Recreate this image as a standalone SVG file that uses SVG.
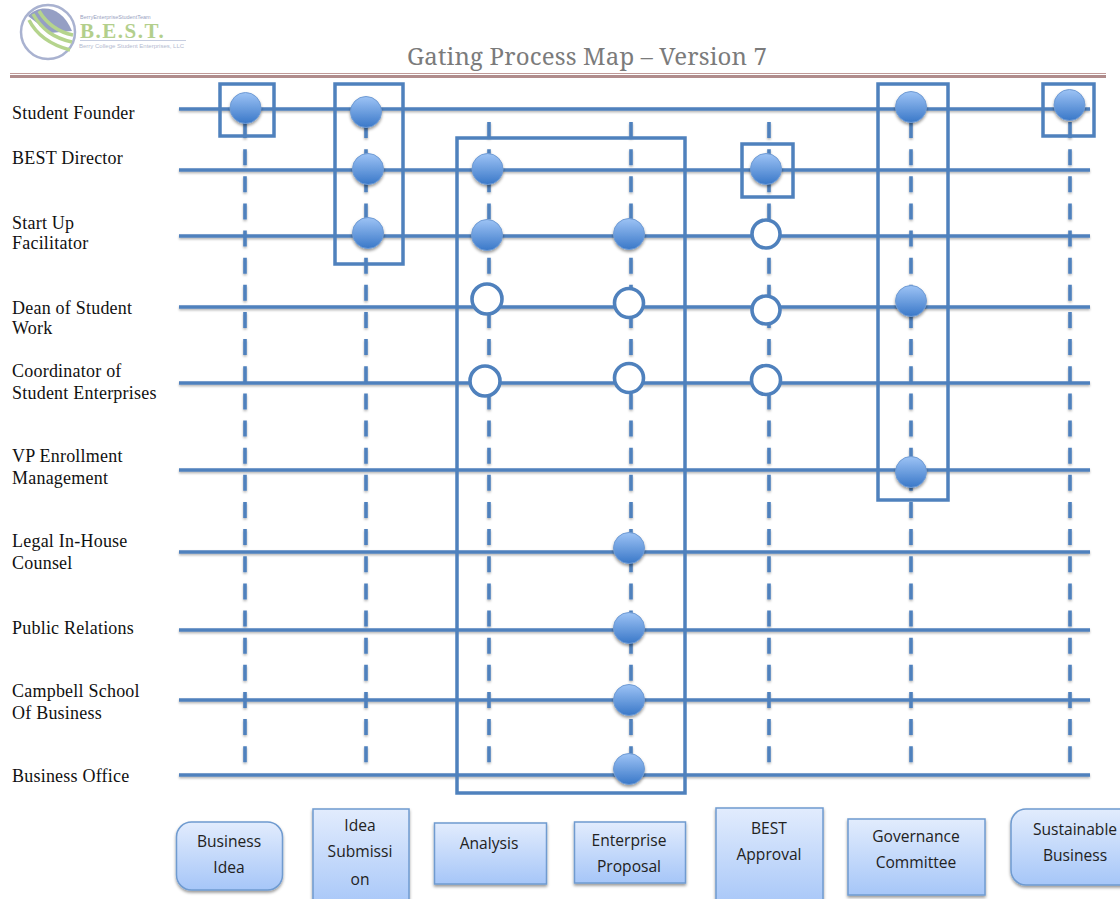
<svg xmlns="http://www.w3.org/2000/svg" width="1120" height="899" viewBox="0 0 1120 899">
<style>
.lb{font-family:"Liberation Serif","Times New Roman",serif;font-size:18px;letter-spacing:.22px;fill:#111}
.bt{font-family:"Open Sans","Noto Sans",sans-serif;font-size:15.6px;fill:#222;text-anchor:middle}
.h{stroke:#4f81bd;stroke-width:3.6;fill:none}
.v{stroke:#4f81bd;stroke-width:3.6;fill:none;stroke-dasharray:16 11.140}
.sd{filter:url(#ls)}
.f{fill:none;stroke:#4f81bd;stroke-width:3.5}
.on{fill:url(#dot);stroke:#6f9bd4;stroke-width:1;filter:url(#sh)}
.off{fill:#fff;stroke:#4f81bd;stroke-width:3.6}
.box{fill:url(#bx);stroke:#6f9bd0;stroke-width:1.500;filter:url(#sh)}
</style>
<defs>
<linearGradient id="dot" x1="0" y1="0" x2="0" y2="1"><stop offset="0" stop-color="#9dc3f5"/><stop offset="1" stop-color="#3a78c8"/></linearGradient>
<linearGradient id="bx" x1="0" y1="0" x2="0" y2="1"><stop offset="0" stop-color="#e2ecfd"/><stop offset="1" stop-color="#a6c6f8"/></linearGradient>
<filter id="sh" x="-20%" y="-20%" width="140%" height="140%"><feDropShadow dx="0" dy="2" stdDeviation="1.500" flood-color="#000" flood-opacity=".4"/></filter>
<filter id="ls" filterUnits="userSpaceOnUse" x="0" y="0" width="1120" height="899"><feDropShadow dx="0" dy="1.500" stdDeviation="1" flood-color="#000" flood-opacity=".3"/></filter>
</defs>
<rect width="1120" height="899" fill="#fff"/>
<g id="logo">
<circle cx="48" cy="32" r="27" fill="none" stroke="#a9b2d0" stroke-width="2.500"/>
<path d="M28 16C40 3 62 6 72 31L50 33Z" fill="#959fc4"/>
<path d="M29 20C36 34 48 44 70 50M33 14C42 30 54 38 72 42M39 11C47 24 58 32 73 35" fill="none" stroke="#b5d48d" stroke-width="3.500"/>
<text x="80" y="19" font-family="Liberation Sans,sans-serif" font-size="5.500" fill="#9aa3bf">BerryEnterpriseStudentTeam</text>
<text x="80" y="38" font-family="Liberation Serif,serif" font-size="21" font-weight="bold" letter-spacing="1.500" fill="#b3cf8c">B.E.S.T.</text>
<rect x="80" y="40" width="106" height="1" fill="#c5cde0"/>
<text x="79" y="48" font-family="Liberation Sans,sans-serif" font-size="6" fill="#b3bbd0">Berry College Student Enterprises, LLC</text>
</g>
<text id="title" x="587" y="65" text-anchor="middle" font-family="Noto Serif,DejaVu Serif,Liberation Serif,serif" font-size="24" fill="#7b7b7b" textLength="360">Gating Process Map – Version 7</text>
<g id="rule"><rect x="10" y="73" width="1096" height="1" fill="#c09a98"/><rect x="10" y="75" width="1096" height="3" fill="#b08c8c"/></g>
<g id="connectors" class="sd">
<path class="v" d="M245 122V764"/><path class="v" d="M366 122V764"/><path class="v" d="M489 122V764"/><path class="v" d="M631 122V764"/><path class="v" d="M769 122V764"/><path class="v" d="M911 122V764"/><path class="v" d="M1070 122V764"/>
<path class="h" d="M179 109H1090"/><path class="h" d="M179 170H1090"/><path class="h" d="M179 236H1090"/><path class="h" d="M179 307H1090"/><path class="h" d="M179 383H1090"/><path class="h" d="M179 470H1090"/><path class="h" d="M179 552H1090"/><path class="h" d="M179 630H1090"/><path class="h" d="M179 700H1090"/><path class="h" d="M179 775H1090"/>
</g>
<g id="frames">
<rect class="f" x="220" y="84" width="54" height="52"/>
<rect class="f" x="335" y="84" width="68" height="180"/>
<rect class="f" x="457" y="138" width="228" height="655"/>
<rect class="f" x="742" y="144" width="51" height="53"/>
<rect class="f" x="878" y="84" width="70" height="416"/>
<rect class="f" x="1043" y="84" width="51" height="52"/>
</g>
<g id="labels">
<text class="lb" x="12" y="119">Student Founder</text>
<text class="lb" x="12" y="164">BEST Director</text>
<text class="lb" x="12" y="229">Start Up</text><text class="lb" x="12" y="249">Facilitator</text>
<text class="lb" x="12" y="314">Dean of Student</text><text class="lb" x="12" y="334">Work</text>
<text class="lb" x="12" y="377">Coordinator of</text><text class="lb" x="12" y="399">Student Enterprises</text>
<text class="lb" x="12" y="462">VP Enrollment</text><text class="lb" x="12" y="484">Management</text>
<text class="lb" x="12" y="547">Legal In-House</text><text class="lb" x="12" y="569">Counsel</text>
<text class="lb" x="12" y="634">Public Relations</text>
<text class="lb" x="12" y="697">Campbell School</text><text class="lb" x="12" y="719">Of Business</text>
<text class="lb" x="12" y="782">Business Office</text>
</g>
<g id="markers">
<circle class="on" cx="245.500" cy="108" r="15.500"/><circle class="on" cx="366" cy="112" r="15.500"/><circle class="on" cx="911" cy="107" r="15.500"/><circle class="on" cx="1069.500" cy="105" r="15.500"/>
<circle class="on" cx="368" cy="169" r="15.500"/><circle class="on" cx="487.500" cy="169" r="15.500"/><circle class="on" cx="766" cy="169" r="15.500"/>
<circle class="on" cx="368" cy="233" r="15.500"/><circle class="on" cx="487" cy="235" r="15.500"/><circle class="on" cx="629" cy="234" r="15.500"/><circle class="off" cx="766" cy="234" r="14"/>
<circle class="off" cx="487" cy="299" r="15"/><circle class="off" cx="629" cy="303" r="14.500"/><circle class="off" cx="766" cy="310" r="14"/><circle class="on" cx="911" cy="301" r="15.500"/>
<circle class="off" cx="485" cy="381" r="15"/><circle class="off" cx="629" cy="378" r="14.500"/><circle class="off" cx="766" cy="380" r="14.500"/>
<circle class="on" cx="911" cy="472" r="15.500"/><circle class="on" cx="629" cy="548" r="15.500"/><circle class="on" cx="629" cy="628" r="15.500"/><circle class="on" cx="629" cy="700" r="15.500"/><circle class="on" cx="629" cy="769" r="15.500"/>
</g>
<g id="n1"><rect class="box" x="176.500" y="822" width="106" height="68" rx="15"/><text class="bt" x="229" y="847">Business</text><text class="bt" x="229" y="873">Idea</text></g>
<g id="n2"><rect class="box" x="313" y="809" width="96" height="100"/><text class="bt" x="360" y="831">Idea</text><text class="bt" x="360" y="857">Submissi</text><text class="bt" x="360" y="885">on</text></g>
<g id="n3"><rect class="box" x="434.500" y="823" width="112" height="61"/><text class="bt" x="489" y="849">Analysis</text></g>
<g id="n4"><rect class="box" x="574.500" y="822" width="111" height="61"/><text class="bt" x="629" y="846">Enterprise</text><text class="bt" x="629" y="872">Proposal</text></g>
<g id="n5"><rect class="box" x="716" y="808" width="107" height="100"/><text class="bt" x="769" y="834">BEST</text><text class="bt" x="769" y="860">Approval</text></g>
<g id="n6"><rect class="box" x="848" y="819" width="137" height="76"/><text class="bt" x="916" y="842">Governance</text><text class="bt" x="916" y="868">Committee</text></g>
<g id="n7"><rect class="box" x="1011" y="809" width="130" height="76" rx="15"/><text class="bt" x="1075" y="835">Sustainable</text><text class="bt" x="1075" y="861">Business</text></g>
</svg>
